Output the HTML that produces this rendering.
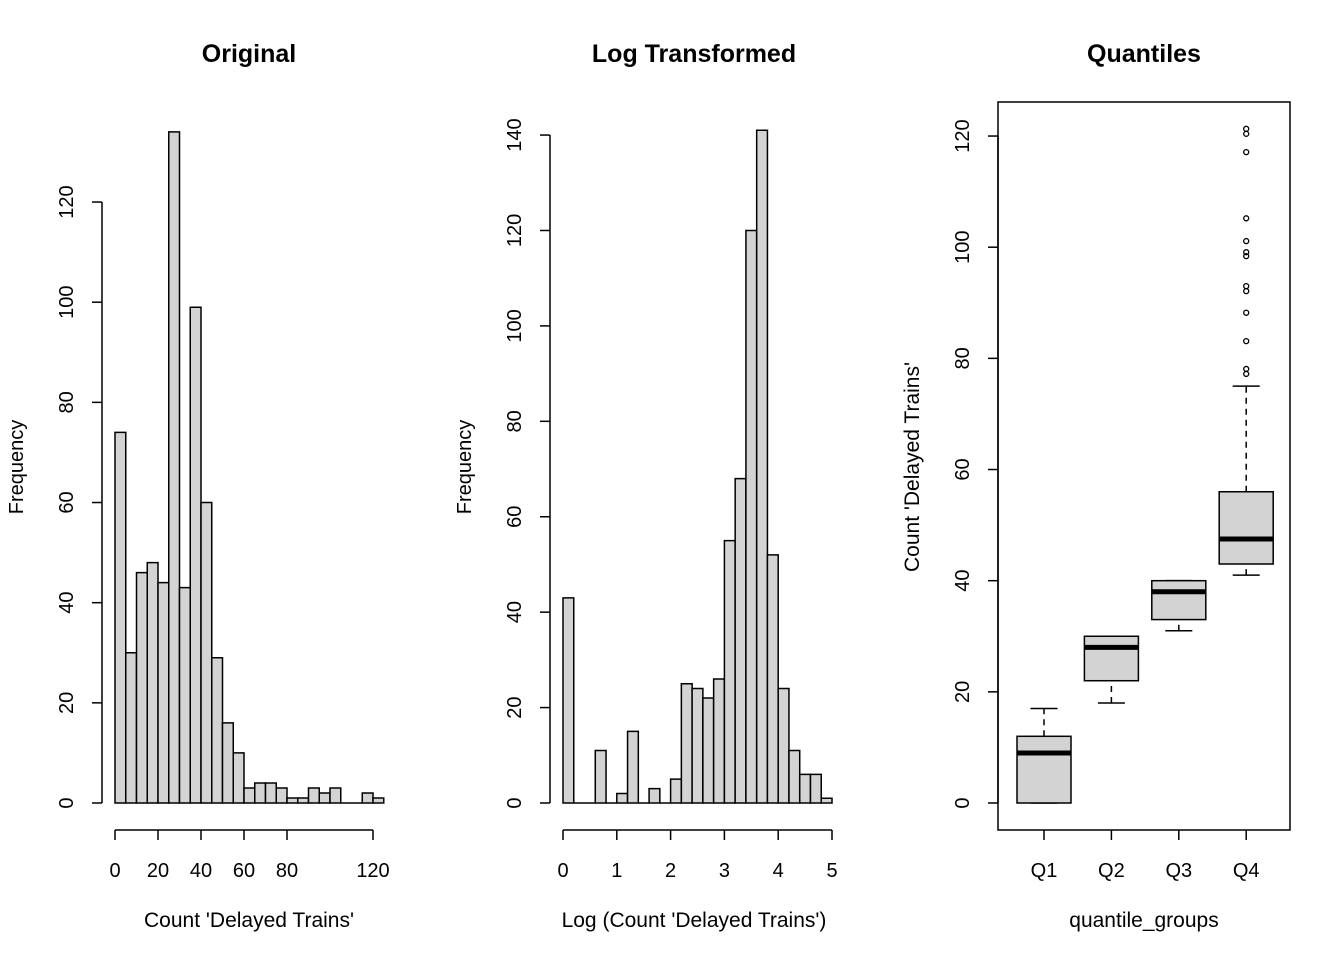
<!DOCTYPE html>
<html><head><meta charset="utf-8"><style>
body{margin:0;background:#fff}
svg{display:block;font-family:"Liberation Sans",Arial,sans-serif}
</style></head><body>
<svg id="c" width="1344" height="960" xmlns="http://www.w3.org/2000/svg"></svg>
<script>
const h1Counts=[74,30,46,48,44,134,43,99,60,29,16,10,3,4,4,3,1,1,3,2,3,0,0,2,1];
const h1Start=0, h1Width=5;
const h1XTicks=[0,20,40,60,80,120];
const h1YTicks=[0,20,40,60,80,100,120];
const h2Counts=[43,0,0,11,0,2,15,0,3,0,5,25,24,22,26,55,68,120,141,52,24,11,6,6,1];
const h2Start=0, h2Width=0.2;
const h2XTicks=[0,1,2,3,4,5];
const h2YTicks=[0,20,40,60,80,100,120,140];
const boxGroups=["Q1","Q2","Q3","Q4"];
const boxLowW=[0,18,31,41];
const boxQ1=[0,22,33,43];
const boxMed=[9,28,38,47.5];
const boxQ3=[12,30,40,56];
const boxHighW=[17,30,40,75];
const q4Outliers=[121.3,120.4,117.1,105.2,101.1,99.1,98.4,93,92.1,88.2,83.1,78.1,77.2];
const boxYTicks=[0,20,40,60,80,100,120];

const svg=document.getElementById('c');
const NS='http://www.w3.org/2000/svg';
function mk(tag,attrs,parent){const e=document.createElementNS(NS,tag);for(const k in attrs)e.setAttribute(k,attrs[k]);(parent||svg).appendChild(e);return e;}
function txt(x,y,s,opts,name){const t=mk('text',Object.assign({x:x,y:y,'text-anchor':'middle','font-size':20,fill:'#000'},opts||{}));t.textContent=s;


return t;}
function line(x1,y1,x2,y2,name,extra){const l=mk('line',Object.assign({x1,y1,x2,y2,stroke:'#000','stroke-width':1.5},extra||{}));


return l;}

function hist(counts,start,width,xTicks,yTicks,xs,ys,axX,axY,title,tx,xlab,pfx){
  const g=mk('g',{});
  
  
  counts.forEach((c,i)=>{
    const x0=xs(start+i*width),x1=xs(start+(i+1)*width),y0=ys(0),y1=ys(c);
    const r=mk('path',{d:`M${x0},${y0}L${x0},${y1}L${x1},${y1}L${x1},${y0}Z`,fill:'#d3d3d3',stroke:'#000','stroke-width':1.5},g);
    
    
  });
  line(xs(xTicks[0]),axY,xs(xTicks[xTicks.length-1]),axY,pfx+'-x-axis');
  xTicks.forEach(v=>{line(xs(v),axY,xs(v),axY+10,pfx+'-x-tick');txt(xs(v),877,String(v),{},pfx+'-x-tick-label');});
  line(axX,ys(yTicks[0]),axX,ys(yTicks[yTicks.length-1]),pfx+'-y-axis');
  yTicks.forEach(v=>{line(axX-10,ys(v),axX,ys(v),pfx+'-y-tick');txt(0,0,String(v),{transform:`translate(${axX-29},${ys(v)}) rotate(-90)`},pfx+'-y-tick-label');});
  txt(tx,62,title,{'font-weight':'bold','font-size':25},pfx+'-title');
  txt(tx,927,xlab,{'font-size':21},pfx+'-x-axis-title');
}
const p1x=v=>115+v*2.15, p1y=v=>803-v*5.008;
hist(h1Counts,h1Start,h1Width,h1XTicks,h1YTicks,p1x,p1y,102,830,'Original',249,"Count 'Delayed Trains'",'original');
txt(0,0,'Frequency',{transform:'translate(23,467) rotate(-90)'},'original-y-axis-title');
const p2x=v=>563+v*53.8, p2y=v=>803-v*4.771;
hist(h2Counts,h2Start,h2Width,h2XTicks,h2YTicks,p2x,p2y,550,830,'Log Transformed',694,"Log (Count 'Delayed Trains')",'log');
txt(0,0,'Frequency',{transform:'translate(471,467) rotate(-90)'},'log-y-axis-title');

const by=v=>803-v*5.558, bx=i=>1044+i*67.4, hw=27;
const frame=mk('rect',{x:998,y:102,width:292,height:728,fill:'none',stroke:'#000','stroke-width':1.5});


boxGroups.forEach((gname,i)=>{
  const x=bx(i);
  line(x,by(boxLowW[i]),x,by(boxQ1[i]),'whisker-low-'+gname,{'stroke-dasharray':'6,5'});
  line(x,by(boxQ3[i]),x,by(boxHighW[i]),'whisker-high-'+gname,{'stroke-dasharray':'6,5'});
  line(x-hw/2,by(boxLowW[i]),x+hw/2,by(boxLowW[i]),'whisker-cap-low-'+gname);
  line(x-hw/2,by(boxHighW[i]),x+hw/2,by(boxHighW[i]),'whisker-cap-high-'+gname);
  const r=mk('rect',{x:x-hw,y:by(boxQ3[i]),width:2*hw,height:by(boxQ1[i])-by(boxQ3[i]),fill:'#d3d3d3',stroke:'#000','stroke-width':1.5});
  
  
  line(x-hw,by(boxMed[i]),x+hw,by(boxMed[i]),'median-'+gname,{'stroke-width':5});
  line(x,830,x,840,'boxplot-x-tick');
  txt(x,877,gname,{},'boxplot-x-tick-label');
});
q4Outliers.forEach(v=>{
  const c=mk('circle',{cx:bx(3),cy:by(v),r:2.5,fill:'none',stroke:'#000','stroke-width':1.3});
  
  
});
line(998,by(boxYTicks[0]),998,by(boxYTicks[boxYTicks.length-1]),'boxplot-y-axis');
boxYTicks.forEach(v=>{line(988,by(v),998,by(v),'boxplot-y-tick');txt(0,0,String(v),{transform:`translate(969,${by(v)}) rotate(-90)`},'boxplot-y-tick-label');});
txt(1144,62,'Quantiles',{'font-weight':'bold','font-size':25},'boxplot-title');
txt(1144,927,'quantile_groups',{'font-size':21},'boxplot-x-axis-title');
txt(0,0,"Count 'Delayed Trains'",{transform:'translate(919,467) rotate(-90)','font-size':21},'boxplot-y-axis-title');
</script>
</body></html>
